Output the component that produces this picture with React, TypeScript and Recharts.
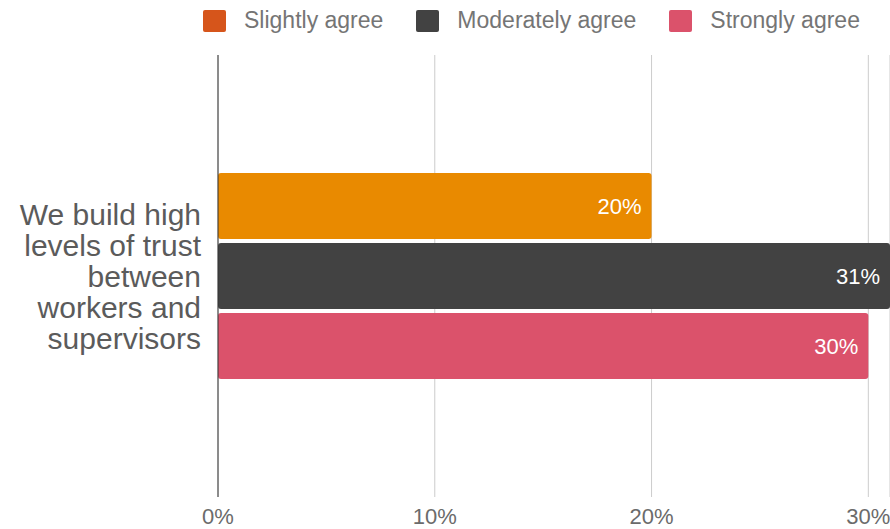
import { BarChart, Bar, XAxis, YAxis, CartesianGrid, LabelList } from 'recharts'

const categories = ['We build high levels of trust between workers and supervisors']
const categoryLines = [['We build high', 'levels of trust', 'between', 'workers and', 'supervisors']]
const slightlyAgree = [0.2]
const moderatelyAgree = [0.31]
const stronglyAgree = [0.3]
const seriesNames = ['Slightly agree', 'Moderately agree', 'Strongly agree']
const xTicks = [0, 0.1, 0.2, 0.3]

const BAR_COLORS = ['#E98A00', '#424242', '#DB526B']
const LEGEND_COLORS = ['#D6551B', '#424242', '#DB526B']
const FONT = '"Liberation Sans", Arial, sans-serif'

const data = categories.map((category, i) => ({
  category,
  slightly: slightlyAgree[i],
  moderately: moderatelyAgree[i],
  strongly: stronglyAgree[i],
}))

const pct = (v: number) => `${Math.round(v * 100)}%`

const CategoryTick = ({ y, payload, index }: any) => {
  const lines = categoryLines[index] ?? [String(payload.value)]
  const lh = 31
  const start = y - ((lines.length - 1) * lh) / 2
  return (
    <text textAnchor="end" fill="#5b5b5b" fontSize={30} fontFamily={FONT}>
      {lines.map((l: string, i: number) => (
        <tspan key={i} x={201} y={start + i * lh} dominantBaseline="central">
          {l}
        </tspan>
      ))}
    </text>
  )
}

const App = () => {
  return (
    <div style={{ position: 'relative', width: 890, height: 529, fontFamily: FONT }}>
      <style>{'body{margin:0}'}</style>
      <div style={{ position: 'absolute', top: 7, left: 203, display: 'flex', alignItems: 'center', whiteSpace: 'nowrap' }}>
        {seriesNames.map((name, i) => (
          <div key={name} style={{ display: 'flex', alignItems: 'center', marginRight: 33 }}>
            <div style={{ width: 23, height: 22, borderRadius: 2, background: LEGEND_COLORS[i] }} />
            <span style={{ marginLeft: 18, fontSize: 23, color: '#757575' }}>{name}</span>
          </div>
        ))}
      </div>
      <BarChart
        width={890}
        height={529}
        data={data}
        layout="vertical"
        margin={{ top: 55, right: 0, left: 0, bottom: 0 }}
        barSize={66}
        barGap={4}
      >
        <CartesianGrid horizontal={false} stroke="#cccccc" />
        <XAxis
          type="number"
          domain={[0, 0.31]}
          ticks={xTicks}
          tickFormatter={pct}
          axisLine={false}
          tickLine={false}
          tickMargin={5}
          height={32}
          tick={{ fill: '#6b6b6b', fontSize: 22, fontFamily: FONT }}
        />
        <YAxis
          type="category"
          dataKey="category"
          width={218}
          axisLine={{ stroke: '#333333' }}
          tickLine={false}
          tick={<CategoryTick />}
        />
        <Bar dataKey="slightly" name={seriesNames[0]} fill={BAR_COLORS[0]} radius={3} isAnimationActive={false}>
          <LabelList dataKey="slightly" position="insideRight" offset={10} formatter={pct} fill="#ffffff" fontSize={22} fontFamily={FONT} />
        </Bar>
        <Bar dataKey="moderately" name={seriesNames[1]} fill={BAR_COLORS[1]} radius={3} isAnimationActive={false}>
          <LabelList dataKey="moderately" position="insideRight" offset={10} formatter={pct} fill="#ffffff" fontSize={22} fontFamily={FONT} />
        </Bar>
        <Bar dataKey="strongly" name={seriesNames[2]} fill={BAR_COLORS[2]} radius={3} isAnimationActive={false}>
          <LabelList dataKey="strongly" position="insideRight" offset={10} formatter={pct} fill="#ffffff" fontSize={22} fontFamily={FONT} />
        </Bar>
      </BarChart>
    </div>
  )
}

export default App
